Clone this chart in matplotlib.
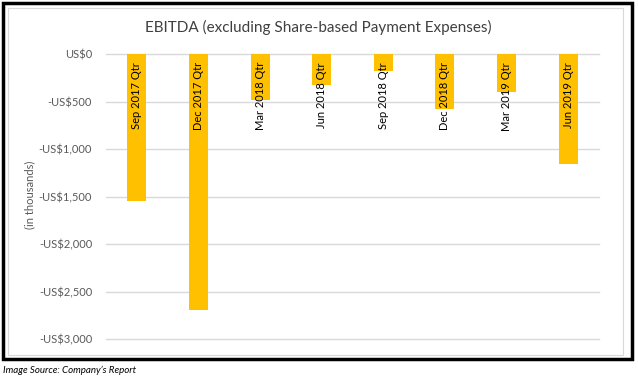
import matplotlib.pyplot as plt
from matplotlib.patches import Rectangle
from matplotlib.ticker import FuncFormatter

# Quarterly EBITDA, US$ thousands
quarters = ["Sep 2017 Qtr", "Dec 2017 Qtr", "Mar 2018 Qtr", "Jun 2018 Qtr",
            "Sep 2018 Qtr", "Dec 2018 Qtr", "Mar 2019 Qtr", "Jun 2019 Qtr"]
ebitda = [-1550, -2690, -480, -330, -175, -580, -405, -1160]
y_ticks = [0, -500, -1000, -1500, -2000, -2500, -3000]

plt.rcParams["font.family"] = ["Lato", "DejaVu Sans"]
grey = "#595959"

fig = plt.figure(figsize=(6.38, 3.81), dpi=100)

# Outer black frame and inner light chart border
fig.patches.append(Rectangle((3 / 638, 1 - 359 / 381), 629 / 638, 356 / 381,
                             transform=fig.transFigure, fill=False,
                             edgecolor="black", linewidth=2.5))
fig.patches.append(Rectangle((8 / 638, 1 - 355 / 381), 615 / 638, 347 / 381,
                             transform=fig.transFigure, fill=False,
                             edgecolor="#d9d9d9", linewidth=0.8))

ax = fig.add_axes([106 / 638, 1 - 339 / 381, 493 / 638, 285 / 381])
x = range(len(quarters))
ax.bar(x, ebitda, width=0.31, color="#FFC000", zorder=2)

for yt in y_ticks:
    ax.axhline(yt, color="#d9d9d9", linewidth=1, zorder=1, clip_on=False)

# Category labels sit inside the bars just below zero
for i, q in enumerate(quarters):
    ax.text(i, -85, q, rotation=90, ha="center", va="top",
            fontsize=8, color="black", zorder=3)

ax.set_xlim(-0.5, len(quarters) - 0.5)
ax.set_ylim(-3000, 0)
ax.set_yticks(y_ticks)
ax.yaxis.set_major_formatter(FuncFormatter(
    lambda v, p: "US$0" if v == 0 else f"-US${abs(v):,.0f}"))
ax.tick_params(axis="y", length=0, pad=10, labelsize=8, labelcolor=grey)
ax.set_xticks([])
for s in ax.spines.values():
    s.set_visible(False)

fig.text(30 / 638, 1 - 195 / 381, "(in thousands)", rotation=90,
         ha="center", va="center", fontsize=8, color=grey)

fig.text(318 / 638, 1 - 27 / 381,
         "EBITDA (excluding Share-based Payment Expenses)",
         ha="center", va="center", fontsize=11, color="#404040")
fig.text(3 / 638, 1 - 370 / 381, "Image Source: Company\u2019s Report",
         ha="left", va="center", fontsize=7, style="italic", color="black")

fig.savefig("out.png", dpi=100)
